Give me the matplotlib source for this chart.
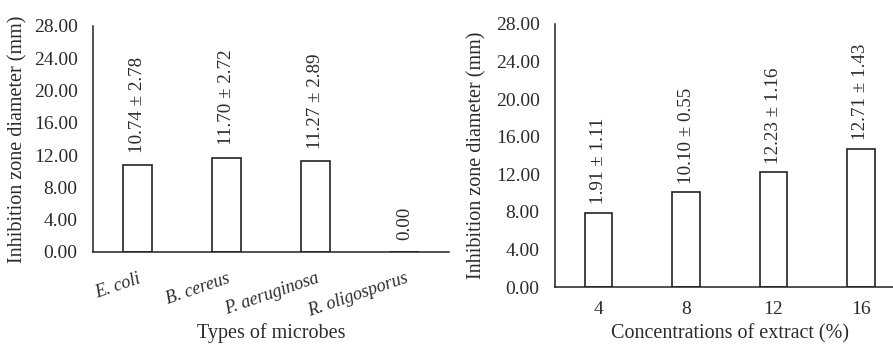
import matplotlib
matplotlib.use("Agg")
import matplotlib.pyplot as plt

plt.rcParams['font.family'] = ['Liberation Serif', 'DejaVu Serif']

# Left panel data
microbes = ["E. coli", "B. cereus", "P. aeruginosa", "R. oligosporus"]
microbe_values = [10.74, 11.70, 11.27, 0.00]
microbe_labels = ["10.74 \u00b1 2.78", "11.70 \u00b1 2.72", "11.27 \u00b1 2.89", "0.00"]

# Right panel data
concentrations = ["4", "8", "12", "16"]
conc_values = [7.91, 10.10, 12.23, 14.71]
conc_labels = ["1.91 \u00b1 1.11", "10.10 \u00b1 0.55", "12.23 \u00b1 1.16", "12.71 \u00b1 1.43"]

yticks = [0, 4, 8, 12, 16, 20, 24, 28]
ytick_labels = ["0.00", "4.00", "8.00", "12.00", "16.00", "20.00", "24.00", "28.00"]

W, H = 893, 345
fig = plt.figure(figsize=(W / 100, H / 100), dpi=100)
TXT = "#2b2b2b"
EDGE = "#222222"

ax1 = fig.add_axes([93 / W, 1 - 252 / H, (449 - 93) / W, (252 - 26) / H])
ax2 = fig.add_axes([555 / W, 1 - 287 / H, (904.6 - 555) / W, (287 - 24) / H])

def style(ax, cats, vals, labels, gap):
    x = list(range(len(cats)))
    ax.bar(x, vals, width=0.315, color="white", edgecolor=EDGE, linewidth=1.2, zorder=2)
    ax.set_xlim(-0.5, len(cats) - 0.5)
    ax.set_ylim(0, 28)
    ax.set_yticks(yticks)
    ax.set_yticklabels(ytick_labels)
    ax.set_xticks(x)
    for s in ["top", "right"]:
        ax.spines[s].set_visible(False)
    for s in ["left", "bottom"]:
        ax.spines[s].set_color(EDGE)
        ax.spines[s].set_linewidth(1.1)
    ax.tick_params(axis="both", length=0, labelsize=14, colors=TXT)
    ax.tick_params(axis="y", pad=11)
    ax.set_ylabel("Inhibition zone diameter (mm)", fontsize=14.5, color=TXT)
    for xi, v, lab in zip(x, vals, labels):
        ax.annotate(lab, (xi, v), xytext=(0, gap), textcoords="offset points",
                    rotation=90, ha="center", va="bottom", fontsize=13.7, color=TXT)

style(ax1, microbes, microbe_values, microbe_labels, 9)
ax1.set_xticklabels(microbes, rotation=19, ha="right", rotation_mode="anchor",
                    fontstyle="italic", fontsize=13)
ax1.tick_params(axis="x", pad=13)
ax1.set_xlabel("Types of microbes", fontsize=14.5, color=TXT)
ax1.yaxis.set_label_coords(-75 / (449 - 93), 0.5)
ax1.xaxis.set_label_coords(0.5, -(333 - 252) / (252 - 26))
ax1.xaxis.label.set_va("center")

style(ax2, concentrations, conc_values, conc_labels, 6)
ax2.set_xticklabels(concentrations)
ax2.tick_params(axis="x", pad=10)
ax2.set_xlabel("Concentrations of extract (%)", fontsize=14.5, color=TXT)
ax2.yaxis.set_label_coords(-(555 - 477) / (904.6 - 555), 0.5)
ax2.xaxis.set_label_coords(0.5, -(334 - 287) / (287 - 24))
ax2.xaxis.label.set_va("center")
ax1.yaxis.label.set_va("center")
ax2.yaxis.label.set_va("center")

fig.savefig("out.png", dpi=100, facecolor="white")
